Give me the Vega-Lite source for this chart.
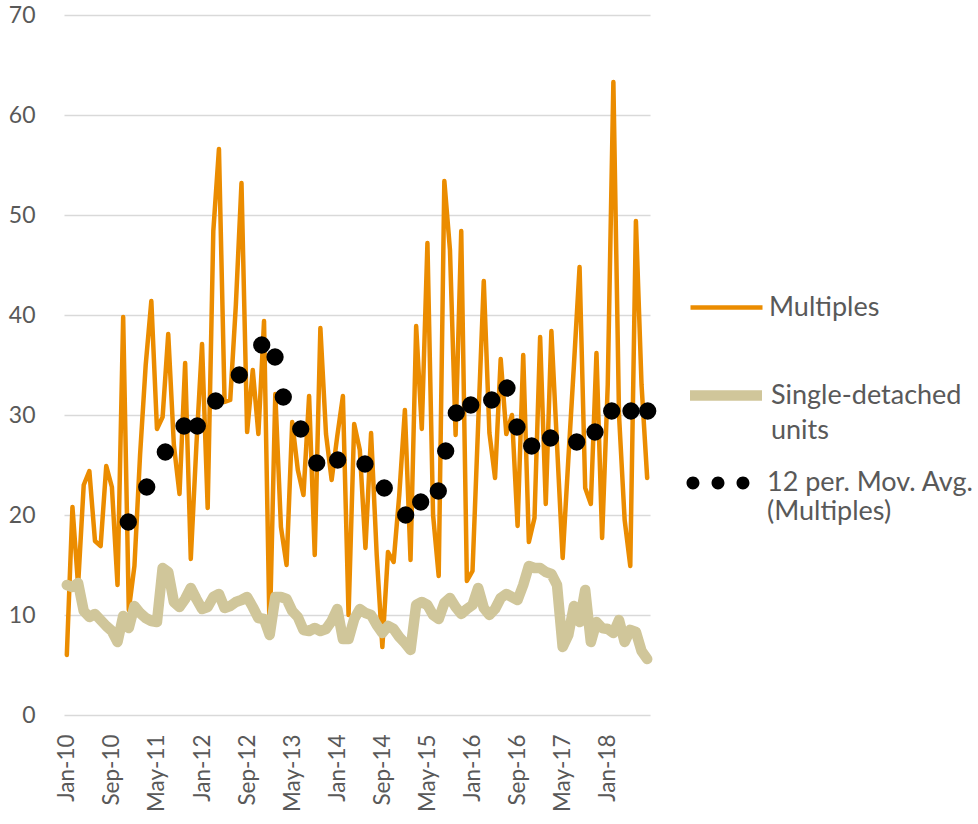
{
  "$schema": "https://vega.github.io/schema/vega-lite/v6.json",
  "width": 586,
  "height": 700,
  "autosize": "none",
  "padding": {"left": 64, "top": 15, "right": 328, "bottom": 109},
  "background": "white",
  "config": {
    "font": "Lato",
    "view": {"stroke": null},
    "axis": {"labelColor": "#595959", "labelFont": "Lato"},
    "legend": {"labelColor": "#595959", "labelFont": "Lato"}
  },
  "datasets": {
    "monthly": [
      {"month": "Jan-10", "i": 0, "multiples": 6.0, "single": 13.0},
      {"month": "Feb-10", "i": 1, "multiples": 20.8, "single": 12.8},
      {"month": "Mar-10", "i": 2, "multiples": 13.0, "single": 13.2},
      {"month": "Apr-10", "i": 3, "multiples": 23.0, "single": 10.4},
      {"month": "May-10", "i": 4, "multiples": 24.4, "single": 9.8},
      {"month": "Jun-10", "i": 5, "multiples": 17.4, "single": 10.1},
      {"month": "Jul-10", "i": 6, "multiples": 16.9, "single": 9.5},
      {"month": "Aug-10", "i": 7, "multiples": 24.9, "single": 8.9},
      {"month": "Sep-10", "i": 8, "multiples": 22.8, "single": 8.4},
      {"month": "Oct-10", "i": 9, "multiples": 13.0, "single": 7.3},
      {"month": "Nov-10", "i": 10, "multiples": 39.8, "single": 9.9},
      {"month": "Dec-10", "i": 11, "multiples": 10.5, "single": 8.7},
      {"month": "Jan-11", "i": 12, "multiples": 14.9, "single": 10.9},
      {"month": "Feb-11", "i": 13, "multiples": 26.0, "single": 10.2},
      {"month": "Mar-11", "i": 14, "multiples": 35.0, "single": 9.7},
      {"month": "Apr-11", "i": 15, "multiples": 41.4, "single": 9.4},
      {"month": "May-11", "i": 16, "multiples": 28.6, "single": 9.3},
      {"month": "Jun-11", "i": 17, "multiples": 29.8, "single": 14.7},
      {"month": "Jul-11", "i": 18, "multiples": 38.1, "single": 14.3},
      {"month": "Aug-11", "i": 19, "multiples": 27.0, "single": 11.3},
      {"month": "Sep-11", "i": 20, "multiples": 22.1, "single": 10.8},
      {"month": "Oct-11", "i": 21, "multiples": 35.2, "single": 11.6},
      {"month": "Nov-11", "i": 22, "multiples": 15.6, "single": 12.7},
      {"month": "Dec-11", "i": 23, "multiples": 27.0, "single": 11.6},
      {"month": "Jan-12", "i": 24, "multiples": 37.1, "single": 10.6},
      {"month": "Feb-12", "i": 25, "multiples": 20.7, "single": 10.8},
      {"month": "Mar-12", "i": 26, "multiples": 48.4, "single": 11.8},
      {"month": "Apr-12", "i": 27, "multiples": 56.6, "single": 12.1},
      {"month": "May-12", "i": 28, "multiples": 31.3, "single": 10.7},
      {"month": "Jun-12", "i": 29, "multiples": 31.5, "single": 10.9},
      {"month": "Jul-12", "i": 30, "multiples": 41.0, "single": 11.3},
      {"month": "Aug-12", "i": 31, "multiples": 53.2, "single": 11.5},
      {"month": "Sep-12", "i": 32, "multiples": 28.3, "single": 11.8},
      {"month": "Oct-12", "i": 33, "multiples": 34.5, "single": 10.8},
      {"month": "Nov-12", "i": 34, "multiples": 28.1, "single": 9.7},
      {"month": "Dec-12", "i": 35, "multiples": 39.4, "single": 9.6},
      {"month": "Jan-13", "i": 36, "multiples": 7.8, "single": 8.0},
      {"month": "Feb-13", "i": 37, "multiples": 32.1, "single": 11.8},
      {"month": "Mar-13", "i": 38, "multiples": 18.8, "single": 11.8},
      {"month": "Apr-13", "i": 39, "multiples": 15.0, "single": 11.6},
      {"month": "May-13", "i": 40, "multiples": 29.3, "single": 10.4},
      {"month": "Jun-13", "i": 41, "multiples": 24.5, "single": 9.8},
      {"month": "Jul-13", "i": 42, "multiples": 22.0, "single": 8.5},
      {"month": "Aug-13", "i": 43, "multiples": 31.9, "single": 8.4},
      {"month": "Sep-13", "i": 44, "multiples": 16.0, "single": 8.7},
      {"month": "Oct-13", "i": 45, "multiples": 38.7, "single": 8.4},
      {"month": "Nov-13", "i": 46, "multiples": 28.1, "single": 8.6},
      {"month": "Dec-13", "i": 47, "multiples": 23.5, "single": 9.4},
      {"month": "Jan-14", "i": 48, "multiples": 27.9, "single": 10.6},
      {"month": "Feb-14", "i": 49, "multiples": 31.9, "single": 7.6},
      {"month": "Mar-14", "i": 50, "multiples": 10.0, "single": 7.6},
      {"month": "Apr-14", "i": 51, "multiples": 29.1, "single": 9.6},
      {"month": "May-14", "i": 52, "multiples": 26.5, "single": 10.6},
      {"month": "Jun-14", "i": 53, "multiples": 16.7, "single": 10.2},
      {"month": "Jul-14", "i": 54, "multiples": 28.2, "single": 10.0},
      {"month": "Aug-14", "i": 55, "multiples": 16.0, "single": 9.0},
      {"month": "Sep-14", "i": 56, "multiples": 6.8, "single": 8.2},
      {"month": "Oct-14", "i": 57, "multiples": 16.3, "single": 8.9},
      {"month": "Nov-14", "i": 58, "multiples": 15.3, "single": 8.6},
      {"month": "Dec-14", "i": 59, "multiples": 22.0, "single": 7.8},
      {"month": "Jan-15", "i": 60, "multiples": 30.5, "single": 7.2},
      {"month": "Feb-15", "i": 61, "multiples": 15.5, "single": 6.5},
      {"month": "Mar-15", "i": 62, "multiples": 38.9, "single": 11.0},
      {"month": "Apr-15", "i": 63, "multiples": 28.6, "single": 11.3},
      {"month": "May-15", "i": 64, "multiples": 47.2, "single": 11.0},
      {"month": "Jun-15", "i": 65, "multiples": 20.0, "single": 10.0},
      {"month": "Jul-15", "i": 66, "multiples": 13.9, "single": 9.6},
      {"month": "Aug-15", "i": 67, "multiples": 53.4, "single": 11.2},
      {"month": "Sep-15", "i": 68, "multiples": 46.5, "single": 11.7},
      {"month": "Oct-15", "i": 69, "multiples": 28.0, "single": 10.8},
      {"month": "Nov-15", "i": 70, "multiples": 48.4, "single": 10.1},
      {"month": "Dec-15", "i": 71, "multiples": 13.4, "single": 10.6},
      {"month": "Jan-16", "i": 72, "multiples": 14.4, "single": 11.0},
      {"month": "Feb-16", "i": 73, "multiples": 29.0, "single": 12.7},
      {"month": "Mar-16", "i": 74, "multiples": 43.4, "single": 10.7},
      {"month": "Apr-16", "i": 75, "multiples": 28.2, "single": 10.0},
      {"month": "May-16", "i": 76, "multiples": 23.7, "single": 10.6},
      {"month": "Jun-16", "i": 77, "multiples": 35.6, "single": 11.7},
      {"month": "Jul-16", "i": 78, "multiples": 28.1, "single": 12.1},
      {"month": "Aug-16", "i": 79, "multiples": 30.0, "single": 11.8},
      {"month": "Sep-16", "i": 80, "multiples": 18.9, "single": 11.5},
      {"month": "Oct-16", "i": 81, "multiples": 36.0, "single": 13.0},
      {"month": "Nov-16", "i": 82, "multiples": 17.3, "single": 14.9},
      {"month": "Dec-16", "i": 83, "multiples": 19.7, "single": 14.7},
      {"month": "Jan-17", "i": 84, "multiples": 37.8, "single": 14.7},
      {"month": "Feb-17", "i": 85, "multiples": 21.1, "single": 14.3},
      {"month": "Mar-17", "i": 86, "multiples": 38.4, "single": 14.1},
      {"month": "Apr-17", "i": 87, "multiples": 27.0, "single": 13.0},
      {"month": "May-17", "i": 88, "multiples": 15.7, "single": 6.8},
      {"month": "Jun-17", "i": 89, "multiples": 25.5, "single": 8.0},
      {"month": "Jul-17", "i": 90, "multiples": 35.0, "single": 10.9},
      {"month": "Aug-17", "i": 91, "multiples": 44.8, "single": 9.3},
      {"month": "Sep-17", "i": 92, "multiples": 22.7, "single": 12.5},
      {"month": "Oct-17", "i": 93, "multiples": 21.1, "single": 7.3},
      {"month": "Nov-17", "i": 94, "multiples": 36.2, "single": 9.3},
      {"month": "Dec-17", "i": 95, "multiples": 17.7, "single": 8.7},
      {"month": "Jan-18", "i": 96, "multiples": 33.0, "single": 8.6},
      {"month": "Feb-18", "i": 97, "multiples": 63.3, "single": 8.2},
      {"month": "Mar-18", "i": 98, "multiples": 30.0, "single": 9.5},
      {"month": "Apr-18", "i": 99, "multiples": 19.5, "single": 7.3},
      {"month": "May-18", "i": 100, "multiples": 14.9, "single": 8.5},
      {"month": "Jun-18", "i": 101, "multiples": 49.4, "single": 8.3},
      {"month": "Jul-18", "i": 102, "multiples": 33.0, "single": 6.4},
      {"month": "Aug-18", "i": 103, "multiples": 23.7, "single": 5.6}
    ],
    "movavg": [
      {"t": 10.91, "value": 19.3},
      {"t": 14.18, "value": 22.8},
      {"t": 17.48, "value": 26.3},
      {"t": 20.80, "value": 28.9},
      {"t": 23.16, "value": 28.9},
      {"t": 26.42, "value": 31.4},
      {"t": 30.61, "value": 34.0},
      {"t": 34.59, "value": 37.0},
      {"t": 36.95, "value": 35.8},
      {"t": 38.42, "value": 31.8},
      {"t": 41.51, "value": 28.6},
      {"t": 44.35, "value": 25.2},
      {"t": 48.07, "value": 25.5},
      {"t": 52.92, "value": 25.1},
      {"t": 56.34, "value": 22.7},
      {"t": 60.14, "value": 20.0},
      {"t": 62.80, "value": 21.3},
      {"t": 65.93, "value": 22.4},
      {"t": 67.24, "value": 26.4},
      {"t": 69.12, "value": 30.2},
      {"t": 71.69, "value": 31.0},
      {"t": 75.40, "value": 31.5},
      {"t": 78.12, "value": 32.7},
      {"t": 79.89, "value": 28.8},
      {"t": 82.50, "value": 26.9},
      {"t": 85.84, "value": 27.7},
      {"t": 90.49, "value": 27.3},
      {"t": 93.74, "value": 28.3},
      {"t": 96.70, "value": 30.4},
      {"t": 100.12, "value": 30.4},
      {"t": 103.09, "value": 30.4}
    ]
  },
  "layer": [
    {
      "data": {"name": "monthly"},
      "mark": {"type": "line", "strokeWidth": 4.5, "strokeCap": "round", "strokeJoin": "round"},
      "encoding": {
        "x": {
          "field": "i",
          "type": "quantitative",
          "scale": {"domain": [-0.5, 103.5], "nice": false, "zero": false},
          "axis": {
            "title": null,
            "values": [0, 8, 16, 24, 32, 40, 48, 56, 64, 72, 80, 88, 96],
            "labelExpr": "['Jan','Feb','Mar','Apr','May','Jun','Jul','Aug','Sep','Oct','Nov','Dec'][datum.value % 12] + '-' + (10 + floor(datum.value / 12))",
            "labelAngle": 270,
            "labelFontSize": 22.5,
            "labelPadding": 19,
            "ticks": false,
            "domain": false,
            "grid": false
          }
        },
        "y": {
          "field": "multiples",
          "type": "quantitative",
          "scale": {"domain": [0, 70], "nice": false},
          "axis": {
            "title": null,
            "values": [0, 10, 20, 30, 40, 50, 60, 70],
            "labelFontSize": 23,
            "labelPadding": 29,
            "ticks": false,
            "domain": false,
            "grid": true,
            "gridColor": "#D9D9D9",
            "gridWidth": 1.5
          }
        },
        "color": {
          "datum": "Multiples",
          "scale": {"range": ["#EB8C00"]},
          "legend": {
            "title": null,
            "orient": "none",
            "legendX": 624,
            "legendY": 254,
            "padding": 0,
            "symbolType": "stroke",
            "symbolSize": 5184,
            "symbolStrokeWidth": 4.5,
            "labelFontSize": 27,
            "labelOffset": 4,
            "labelLimit": 400
          }
        }
      }
    },
    {
      "data": {"name": "monthly"},
      "mark": {"type": "line", "strokeWidth": 10.5, "strokeCap": "round", "strokeJoin": "round"},
      "encoding": {
        "x": {"field": "i", "type": "quantitative"},
        "y": {"field": "single", "type": "quantitative"},
        "stroke": {
          "datum": "Single-detached units",
          "scale": {"range": ["#D0C69A"]},
          "legend": {
            "title": null,
            "orient": "none",
            "legendX": 620.5,
            "legendY": 339,
            "padding": 0,
            "symbolType": "stroke",
            "symbolSize": 5184,
            "symbolStrokeWidth": 10.5,
            "labelFontSize": 27,
            "labelOffset": 3.5,
            "labelLimit": 400,
            "labelExpr": "['Single-detached', 'units']",
            "encode": {"labels": {"update": {"lineHeight": {"value": 35}}}}
          }
        }
      }
    },
    {
      "data": {"name": "movavg"},
      "mark": {"type": "point", "filled": true, "size": 300, "opacity": 1, "strokeWidth": 0},
      "encoding": {
        "x": {"field": "t", "type": "quantitative"},
        "y": {"field": "value", "type": "quantitative"},
        "fill": {
          "datum": "12 per. Mov. Avg. (Multiples)",
          "scale": {"range": ["#000000"]},
          "legend": {
            "title": null,
            "orient": "none",
            "legendX": 626,
            "legendY": 432,
            "padding": 0,
            "symbolType": "M-1.097,0a0.18,0.18 0 1,0 0.36,0a0.18,0.18 0 1,0 -0.36,0ZM-0.402,0a0.18,0.18 0 1,0 0.36,0a0.18,0.18 0 1,0 -0.36,0ZM0.292,0a0.18,0.18 0 1,0 0.36,0a0.18,0.18 0 1,0 -0.36,0Z",
            "symbolSize": 5184,
            "symbolStrokeWidth": 0,
            "labelFontSize": 27,
            "labelOffset": 5,
            "labelLimit": 400,
            "labelExpr": "['12 per. Mov. Avg.', '(Multiples)']"
          }
        }
      }
    }
  ]
}
